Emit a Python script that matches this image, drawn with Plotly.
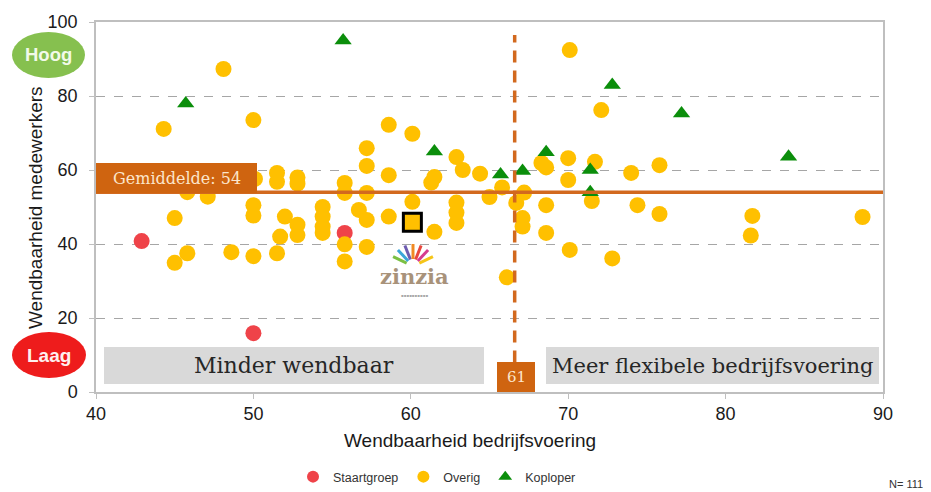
import plotly.graph_objects as go
import math

# ---------------- data ----------------
staart_x = [42.9, 50.0, 55.8]
staart_y = [40.8, 15.9, 43.0]

kop_x = [45.7, 55.7, 61.5, 65.7, 67.1, 68.6, 71.4, 71.4, 72.8, 77.2, 84.0]
kop_y = [78.0, 95.0, 65.0, 58.8, 59.7, 64.8, 60.0, 54.0, 83.0, 75.3, 63.6]

overig_x = [44.3, 48.1, 50.0, 45.8, 47.1, 50.1, 51.5, 51.5, 52.8, 52.8,
            50.0, 50.0, 45.0, 52.0, 52.8, 52.8, 51.7, 54.4, 54.4, 54.4,
            54.4, 45.0, 45.8, 48.6, 50.0, 51.5, 57.2, 57.2, 58.6, 55.8,
            55.8, 57.2, 56.7, 57.2, 58.6, 60.1, 61.5, 62.9, 63.3, 64.4,
            61.5, 61.3, 62.9, 62.9, 62.9, 65.0, 55.8, 55.8, 57.2, 58.6,
            60.1, 70.1, 72.1, 68.3, 68.6, 70.0, 70.0, 71.7, 65.8, 67.2,
            66.7, 67.1, 67.1, 68.6, 68.6, 70.1, 71.5, 74.0, 74.4, 75.8,
            75.8, 72.8, 66.1, 81.7, 81.6, 88.7]
overig_y = [71.1, 87.3, 73.5, 54.0, 52.8, 57.6, 59.2, 56.8, 58.0, 56.3,
            50.5, 47.7, 47.0, 47.4, 45.2, 42.4, 42.0, 50.0, 47.4, 44.7,
            43.0, 34.9, 37.5, 37.8, 36.7, 37.5, 65.9, 61.1, 58.6, 56.5,
            53.8, 53.8, 49.2, 46.5, 47.4, 51.4, 43.3, 63.5, 60.0, 59.0,
            58.1, 56.6, 51.2, 48.5, 45.7, 52.7, 39.9, 35.3, 39.2, 72.2,
            69.8, 92.4, 76.2, 61.9, 60.7, 63.2, 57.3, 62.2, 55.3, 53.9,
            51.1, 47.0, 44.7, 50.5, 43.0, 38.4, 51.6, 59.2, 50.5, 61.3,
            48.1, 36.1, 31.0, 47.6, 42.3, 47.3]

zinzia_x = [60.1]
zinzia_y = [45.9]

gemiddelde = 54
vline_x = 66.6
vline_label = "61"
x_ticks = [40, 50, 60, 70, 80, 90]
y_ticks = [0, 20, 40, 60, 80, 100]

# ---------------- styles ----------------
ORANGE_LINE = "#D2691E"
BOX_ORANGE = "#CF6410"
YELLOW = "#FFC000"
RED = "#EF4349"
GREEN = "#0B8E0B"
SANS = "Arial, Liberation Sans"
SERIF = "DejaVu Serif"

OFF = 8                       # page body margin
W, H = 931 - OFF, 492 - OFF   # figure size
PL, PT, PW, PH = 96, 22, 787, 370   # plot area in screen pixels
L, T = PL - OFF, PT - OFF
R, B = W - L - PW, H - T - PH

def px2x(p):
    return 40 + (p - PL) / PW * 50

def px2y(p):
    return (PT + PH - p) / PH * 100

def pxx(p):
    return (p - PL) / PW

def pxy(p):
    return (PT + PH - p) / PH

fig = go.Figure()

fig.add_trace(go.Scatter(x=staart_x, y=staart_y, mode="markers", name="Staartgroep",
                         marker=dict(color=RED, size=16, symbol="circle", line=dict(width=0))))
fig.add_trace(go.Scatter(x=overig_x, y=overig_y, mode="markers", name="Overig",
                         marker=dict(color=YELLOW, size=16, symbol="circle", line=dict(width=0))))
fig.add_trace(go.Scatter(x=kop_x, y=kop_y, mode="markers", name="Koploper",
                         marker=dict(color=GREEN, size=15, symbol="triangle-up", line=dict(width=0))))
fig.add_trace(go.Scatter(x=zinzia_x, y=zinzia_y, mode="markers", showlegend=False,
                         marker=dict(color=YELLOW, size=18, symbol="square",
                                     line=dict(color="black", width=3))))

shapes = []
shapes.append(dict(type="line", xref="x", yref="y", x0=40, x1=90, y0=gemiddelde, y1=gemiddelde,
                   line=dict(color=ORANGE_LINE, width=3.5), layer="above"))
shapes.append(dict(type="line", xref="x", yref="y", x0=vline_x, x1=vline_x, y0=8, y1=96.5,
                   line=dict(color=ORANGE_LINE, width=3.5, dash="12px,8px"), layer="above"))
shapes.append(dict(type="rect", xref="x", yref="y", x0=40, x1=px2x(257), y0=px2y(193), y1=px2y(163),
                   fillcolor=BOX_ORANGE, line=dict(width=0), layer="above"))
shapes.append(dict(type="rect", xref="x", yref="y", x0=px2x(104), x1=px2x(484), y0=px2y(384), y1=px2y(347),
                   fillcolor="#D9D9D9", line=dict(width=0), layer="above"))
shapes.append(dict(type="rect", xref="x", yref="y", x0=px2x(546), x1=px2x(879), y0=px2y(384), y1=px2y(347),
                   fillcolor="#D9D9D9", line=dict(width=0), layer="above"))
shapes.append(dict(type="rect", xref="x", yref="y", x0=px2x(497), x1=px2x(535), y0=0, y1=px2y(362),
                   fillcolor=BOX_ORANGE, line=dict(width=0), layer="above"))
shapes.append(dict(type="circle", xref="paper", yref="paper", x0=pxx(12), x1=pxx(85), y0=pxy(78), y1=pxy(32),
                   fillcolor="#86C04F", line=dict(width=0), layer="above"))
shapes.append(dict(type="circle", xref="paper", yref="paper", x0=pxx(12), x1=pxx(86), y0=pxy(378), y1=pxy(332),
                   fillcolor="#EE1C1C", line=dict(width=0), layer="above"))

# zinzia logo fan
fan_colors = ["#7BC043", "#3BA6D9", "#6D5BB0", "#F08A24", "#E8473D", "#D63B8F", "#F5C518"]
bx, by = 413, 266
for i, c in enumerate(fan_colors):
    ang = math.radians(155 - i * (130 / 6))
    r0, r1 = 7, 22
    shapes.append(dict(type="line", xref="x", yref="y",
                       x0=px2x(bx + r0 * math.cos(ang)), y0=px2y(by - r0 * math.sin(ang)),
                       x1=px2x(bx + r1 * math.cos(ang)), y1=px2y(by - r1 * math.sin(ang)),
                       line=dict(color=c, width=3), layer="above"))

def ann(x, y, text, font, xref="x", yref="y", **kw):
    d = dict(x=x, y=y, xref=xref, yref=yref, text=text, showarrow=False,
             xanchor="center", yanchor="middle", font=font)
    d.update(kw)
    return d

annotations = [
    ann((40 + px2x(257)) / 2, (px2y(193) + px2y(163)) / 2, "Gemiddelde: " + str(gemiddelde),
        dict(family=SERIF, size=16, color="#FCE6CC")),
    ann((px2x(104) + px2x(484)) / 2, (px2y(384) + px2y(347)) / 2, "Minder wendbaar",
        dict(family=SERIF, size=22, color="#262626")),
    ann((px2x(546) + px2x(879)) / 2, (px2y(384) + px2y(347)) / 2, "Meer flexibele bedrijfsvoering",
        dict(family=SERIF, size=21, color="#262626")),
    ann((px2x(497) + px2x(535)) / 2, px2y(377), vline_label,
        dict(family=SERIF, size=15, color="#FCE6CC")),
    ann(pxx(48.5), pxy(55), "<b>Hoog</b>", dict(family=SANS, size=18.5, color="#F2FAE8"),
        xref="paper", yref="paper"),
    ann(pxx(49), pxy(355), "<b>Laag</b>", dict(family=SANS, size=19, color="#FFF0F0"),
        xref="paper", yref="paper"),
    ann(px2x(414), px2y(276), "<b>zinzia</b>", dict(family="DejaVu Serif", size=21, color="#A8927A")),
    ann(px2x(414), px2y(295), "▪▪▪▪▪▪▪▪▪▪", dict(family="DejaVu Sans", size=4, color="#A8A8A8")),
    ann(pxx(35), pxy(208), "Wendbaarheid medewerkers", dict(family=SANS, size=19, color="#1a1a1a"),
        xref="paper", yref="paper", textangle=-90),
    ann(pxx(470), pxy(440), "Wendbaarheid bedrijfsvoering", dict(family=SANS, size=19, color="#1a1a1a"),
        xref="paper", yref="paper"),
    ann(pxx(906), pxy(484), "N= 111", dict(family=SANS, size=11, color="#333333"),
        xref="paper", yref="paper"),
]

fig.update_layout(
    width=W, height=H, autosize=False,
    margin=dict(l=L, r=R, t=T, b=B, pad=0, autoexpand=False),
    paper_bgcolor="white", plot_bgcolor="white",
    shapes=shapes, annotations=annotations,
    showlegend=True,
    legend=dict(orientation="h", x=pxx(293), y=pxy(477), xanchor="left", yanchor="middle",
                font=dict(family=SANS, size=12.5, color="#333333"),
                itemsizing="constant", bgcolor="rgba(0,0,0,0)"),
    xaxis=dict(range=[40, 90], tickvals=x_ticks, showgrid=False, zeroline=False,
               showline=True, linecolor="#BFBFBF", linewidth=1.5, mirror=True,
               ticks="outside", ticklen=5, tickcolor="#BFBFBF", automargin=False,
               tickfont=dict(family=SANS, size=18, color="#1a1a1a")),
    yaxis=dict(range=[0, 100], tickvals=y_ticks, showgrid=True, gridcolor="#A6A6A6",
               griddash="dash", gridwidth=1, zeroline=False,
               showline=True, linecolor="#BFBFBF", linewidth=1.5, mirror=True,
               ticks="outside", ticklen=5, tickcolor="#BFBFBF", automargin=False,
               ticklabelstandoff=8,
               tickfont=dict(family=SANS, size=18, color="#1a1a1a")),
)

fig.write_html("out.html")
